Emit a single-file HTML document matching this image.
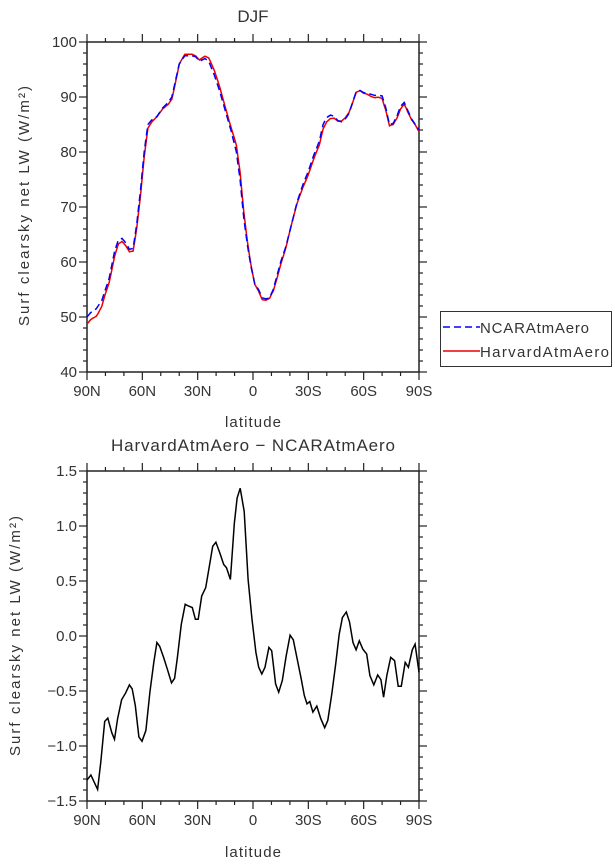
<!DOCTYPE html>
<html><head><meta charset="utf-8"><style>
body{margin:0;background:#fff;}
svg text{font-family:"Liberation Sans",sans-serif;fill:#333;}
</style></head><body>
<svg id="s" width="615" height="862" xmlns="http://www.w3.org/2000/svg">
<text x="253" y="22" font-size="17" text-anchor="middle">DJF</text>
<text x="253" y="451" font-size="17" text-anchor="middle" textLength="284" lengthAdjust="spacing">HarvardAtmAero − NCARAtmAero</text>
<text x="253" y="427" font-size="15" text-anchor="middle" textLength="56" lengthAdjust="spacing">latitude</text>
<text x="253" y="857" font-size="15" text-anchor="middle" textLength="56" lengthAdjust="spacing">latitude</text>
<text transform="translate(29,206) rotate(-90)" font-size="15" text-anchor="middle" textLength="240" lengthAdjust="spacing">Surf clearsky net LW (W/m²)</text>
<text transform="translate(20,636) rotate(-90)" font-size="15" text-anchor="middle" textLength="240" lengthAdjust="spacing">Surf clearsky net LW (W/m²)</text>
<rect x="440.5" y="311.5" width="171" height="55" fill="none" stroke="#333" stroke-width="1"/>
<line x1="443" y1="327" x2="480" y2="327" stroke="#00f" stroke-width="1.5" stroke-dasharray="7,4"/>
<line x1="443" y1="351" x2="480" y2="351" stroke="#e00" stroke-width="1.5"/>
<text x="480" y="333" font-size="15" textLength="109" lengthAdjust="spacing">NCARAtmAero</text>
<text x="480" y="357" font-size="15" textLength="129" lengthAdjust="spacing">HarvardAtmAero</text>
<g id="g"></g>
</svg>
<script>
var NS="http://www.w3.org/2000/svg",g=document.getElementById('g');
function el(t,a,txt){var e=document.createElementNS(NS,t);for(var k in a)e.setAttribute(k,a[k]);if(txt!=null)e.textContent=txt;g.appendChild(e);return e;}
var X0=87,X1=419;
function fx(t){return X0+t*(X1-X0)/180;}
function axes(Y0,Y1,vmin,vmax,maj,minr,fmt){
 el('rect',{x:X0,y:Y0,width:X1-X0,height:Y1-Y0,fill:'none',stroke:'#222','stroke-width':1.5});
 var fy=function(v){return Y0+(vmax-v)*(Y1-Y0)/(vmax-vmin);};
 for(var t=0;t<=180;t+=10){var x=fx(t),L=(t%30==0)?8:4;
  el('line',{x1:x,y1:Y1,x2:x,y2:Y1+L,stroke:'#222','stroke-width':1.2});
  el('line',{x1:x,y1:Y0,x2:x,y2:Y0-L,stroke:'#222','stroke-width':1.2});}
 var labs=['90N','60N','30N','0','30S','60S','90S'];
 for(var i=0;i<7;i++)el('text',{x:fx(i*30),y:Y1+24,'font-size':15,'text-anchor':'middle'},labs[i]);
 var n=Math.round((vmax-vmin)/minr);
 for(var i=0;i<=n;i++){var v=vmin+i*minr,y=fy(v),isM=(i%Math.round(maj/minr)==0),L=isM?8:4;
  el('line',{x1:X0,y1:y,x2:X0-L,y2:y,stroke:'#222','stroke-width':1.2});
  el('line',{x1:X1,y1:y,x2:X1+L,y2:y,stroke:'#222','stroke-width':1.2});
  if(isM)el('text',{x:X0-10,y:y+5,'font-size':15,'text-anchor':'end'},fmt(v));}
 return fy;}
var fy1=axes(42,372,40,100,10,2,function(v){return v.toFixed(0);});
var fy2=axes(471,801,-1.5,1.5,0.5,0.1,function(v){return (Math.abs(v)<1e-9?0:v).toFixed(1).replace('-','−');});
var B=[[0,50],[2,50.8],[5,51.5],[8,53],[12,57],[15,62],[17,64],[19,64.3],[21,63.5],[23,62.3],[25,62.5],[27,67],[29,73],[31,80],[33,85],[35,85.8],[38,86.5],[41,88],[44,89],[46,90],[48,93],[50,96],[53,97.5],[57,97.5],[59,97.3],[61,96.5],[64,97],[66,96.5],[69,94],[72,91],[75,87.5],[78,84],[81,80],[83,75],[85,68],[87,63],[89,59],[91,56],[93,55],[95,53.5],[97,53.3],[99,53.5],[101,55],[103,57.5],[105,60],[108,63],[111,67],[114,71],[117,74],[120,76.5],[123,79.5],[126,82],[128,85],[130,86.3],[132,86.7],[134,86.5],[136,85.7],[138,85.5],[140,86],[142,87],[144,89],[146,91],[148,91.2],[150,90.8],[152,90.7],[154,90.5],[156,90.3],[158,90.3],[160,90.2],[162,88],[164,85],[166,85.2],[168,86.5],[170,88.3],[172,89],[174,87.5],[176,86],[180,84]];
var Z=[[220,1055],[230,1040],[247,1083],[255,1000],[265,878],[273,868],[283,912],[290,932],[298,870],[308,813],[318,793],[328,768],[335,780],[343,830],[352,925],[360,938],[370,905],[380,790],[390,700],[398,640],[405,652],[415,685],[425,722],[435,762],[443,748],[450,685],[460,585],[470,525],[478,530],[488,535],[496,570],[503,570],[512,500],[522,475],[530,420],[540,350],[548,338],[558,370],[568,405],[575,415],[585,450],[595,282],[602,205],[610,175],[620,245],[630,450],[640,570],[650,670],[657,715],[665,735],[673,715],[683,655],[690,665],[700,765],[708,790],[717,755],[727,680],[737,618],[745,632],[755,690],[765,748],[773,800],[780,825],[787,818],[795,850],[805,832],[815,870],[825,897],[833,875],[843,795],[853,705],[862,615],[870,565],[880,548],[888,578],[897,640],[905,662],[913,635],[922,660],[932,675],[940,740],[950,768],[960,738],[968,752],[975,805],[983,740],[993,685],[1003,695],[1012,772],[1020,772],[1030,700],[1038,715],[1048,662],[1055,645],[1065,730]];
var D=Z.map(function(p){return [(p[0]-220)*180/845,1.5-(p[1]-123)*3/995];});
function interp(A,t){for(var i=1;i<A.length;i++)if(t<=A[i][0]){var a=A[i-1],b=A[i];return a[1]+(b[1]-a[1])*(t-a[0])/(b[0]-a[0]);}return A[A.length-1][1];}
var pb='',pr='',pd='';
for(var t=0;t<=180;t+=1){pb+=(t?'L':'M')+fx(t).toFixed(1)+','+fy1(interp(B,t)).toFixed(1);}
for(var t=0;t<=180;t+=1){pr+=(t?'L':'M')+fx(t).toFixed(1)+','+fy1(interp(B,t)+interp(D,t)).toFixed(1);}
D.forEach(function(p,i){pd+=(i?'L':'M')+fx(p[0]).toFixed(1)+','+fy2(p[1]).toFixed(1);});
el('path',{d:pr,fill:'none',stroke:'#e00','stroke-width':1.5});
el('path',{d:pb,fill:'none',stroke:'#00f','stroke-width':1.5,'stroke-dasharray':'7,4'});
el('path',{d:pd,fill:'none',stroke:'#000','stroke-width':1.5});
</script>
</body></html>
